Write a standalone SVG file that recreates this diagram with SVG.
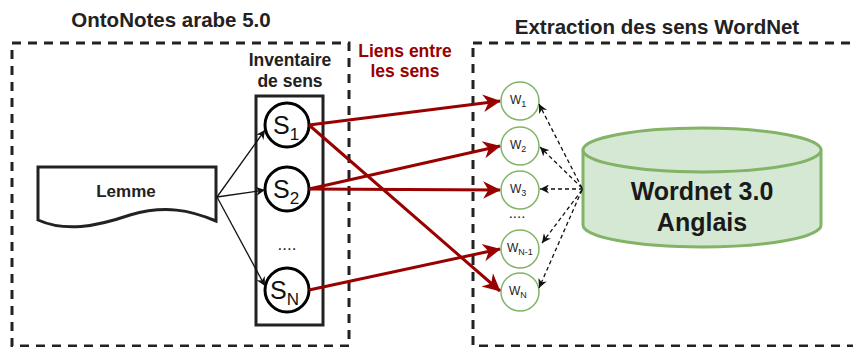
<svg xmlns="http://www.w3.org/2000/svg" width="853" height="347" viewBox="0 0 853 347">
<defs>
<style>
.t{font-family:"Liberation Sans",Arial,sans-serif;fill:#222}
.b{font-weight:bold}
.box{fill:none;stroke:#222;stroke-width:3;stroke-dasharray:9 7}
.s{fill:#fff;stroke:#000;stroke-width:3}
.w{fill:#fff;stroke:#82b366;stroke-width:1.5}
.red{stroke:#990000;stroke-width:3;fill:none;marker-end:url(#mr)}
.blk{stroke:#111;stroke-width:1.3;fill:none;marker-end:url(#mb)}
.dot{stroke:#111;stroke-width:1.3;fill:none;stroke-dasharray:4 3;marker-end:url(#mb)}
</style>
<marker id="mr" viewBox="0 0 10 10" refX="9" refY="5" markerWidth="8" markerHeight="8" markerUnits="userSpaceOnUse" orient="auto" overflow="visible">
<path d="M0,0 L10,5 L0,10 L3,5 Z" fill="#990000" transform="scale(2.2) translate(-5.5,-2.7)"/>
</marker>
<marker id="mb" viewBox="0 0 10 10" refX="10" refY="5" markerWidth="9" markerHeight="9" markerUnits="userSpaceOnUse" orient="auto">
<path d="M0,0 L10,5 L0,10 L3,5 Z" fill="#111"/>
</marker>
</defs>

<g id="ontonotes">
<rect class="box" x="12" y="43" width="337" height="303"/>
<text class="t b" x="171" y="27" font-size="20.5" text-anchor="middle">OntoNotes arabe 5.0</text>
</g>

<g id="wordnet-box">
<rect class="box" x="473" y="43" width="400" height="303"/>
<text class="t b" x="657" y="34" font-size="20.5" text-anchor="middle">Extraction des sens WordNet</text>
</g>

<g id="liens-label">
<text class="t b" x="405" y="57" font-size="17.5" text-anchor="middle" style="fill:#990000">Liens entre</text>
<text class="t b" x="405" y="77" font-size="17.5" text-anchor="middle" style="fill:#990000">les sens</text>
</g>

<g id="inventaire">
<text class="t b" x="290" y="66" font-size="17.5" text-anchor="middle">Inventaire</text>
<text class="t b" x="290" y="87" font-size="17.5" text-anchor="middle">de sens</text>
<rect x="256" y="96" width="67" height="229" fill="#fff" stroke="#222" stroke-width="3"/>
<text class="t" x="287" y="250" font-size="17" text-anchor="middle">....</text>
</g>

<g id="lemme">
<path d="M38,167 H216 V221 C190,210 165,205 130,215 C95,227 65,232 38,220 Z" fill="#fff" stroke="#222" stroke-width="3"/>
<text class="t b" x="126" y="197" font-size="17" text-anchor="middle">Lemme</text>
</g>

<g id="s1">
<circle class="s" cx="287" cy="125" r="22"/>
<text class="t" x="273" y="134" font-size="25" style="fill:#111">S<tspan font-size="17" dy="6">1</tspan></text>
</g>
<g id="s2">
<circle class="s" cx="287" cy="189" r="22"/>
<text class="t" x="273" y="198" font-size="25" style="fill:#111">S<tspan font-size="17" dy="6">2</tspan></text>
</g>
<g id="sn">
<circle class="s" cx="287" cy="290" r="22"/>
<text class="t" x="270" y="299" font-size="25" style="fill:#111">S<tspan font-size="17" dy="6">N</tspan></text>
</g>

<g id="w1"><circle class="w" cx="520" cy="101" r="19"/><text class="t" x="510" y="104" font-size="12">W<tspan font-size="9" dy="3">1</tspan></text></g>
<g id="w2"><circle class="w" cx="520" cy="146" r="19"/><text class="t" x="510" y="149" font-size="12">W<tspan font-size="9" dy="3">2</tspan></text></g>
<g id="w3"><circle class="w" cx="520" cy="190" r="19"/><text class="t" x="510" y="193" font-size="12">W<tspan font-size="9" dy="3">3</tspan></text></g>
<text class="t" x="517" y="218" font-size="15" text-anchor="middle">....</text>
<g id="wn1"><circle class="w" cx="520" cy="249" r="19"/><text class="t" x="507" y="252" font-size="12">W<tspan font-size="9" dy="3">N-1</tspan></text></g>
<g id="wn"><circle class="w" cx="520" cy="292" r="19"/><text class="t" x="509" y="295" font-size="12">W<tspan font-size="9" dy="3">N</tspan></text></g>

<g id="wordnet-db">
<path d="M583,150 V225 A119,22 0 0 0 821,225 V150" fill="#d5e8d4" stroke="#82b366" stroke-width="3"/>
<ellipse cx="702" cy="150" rx="119" ry="22" fill="#d5e8d4" stroke="#82b366" stroke-width="3"/>
<text class="t b" x="702" y="200" font-size="25" text-anchor="middle" style="fill:#1a1a1a">Wordnet 3.0</text>
<text class="t b" x="702" y="231" font-size="25" text-anchor="middle" style="fill:#1a1a1a">Anglais</text>
</g>

<g id="connectors">
<line class="blk" x1="217" y1="197" x2="265" y2="130"/>
<line class="blk" x1="217" y1="197" x2="265" y2="190"/>
<line class="blk" x1="217" y1="197" x2="265" y2="286"/>

<line class="red" x1="309" y1="125" x2="500" y2="101"/>
<line class="red" x1="309" y1="125" x2="500" y2="291"/>
<line class="red" x1="309" y1="189" x2="500" y2="146"/>
<line class="red" x1="309" y1="189" x2="500" y2="190"/>
<line class="red" x1="309" y1="290" x2="500" y2="249"/>

<line class="dot" x1="582" y1="188" x2="539" y2="104"/>
<line class="dot" x1="582" y1="188" x2="540" y2="147"/>
<line class="dot" x1="583" y1="189" x2="540" y2="189"/>
<line class="dot" x1="582" y1="190" x2="542" y2="243"/>
<line class="dot" x1="582" y1="190" x2="539" y2="288"/>
</g>
</svg>
